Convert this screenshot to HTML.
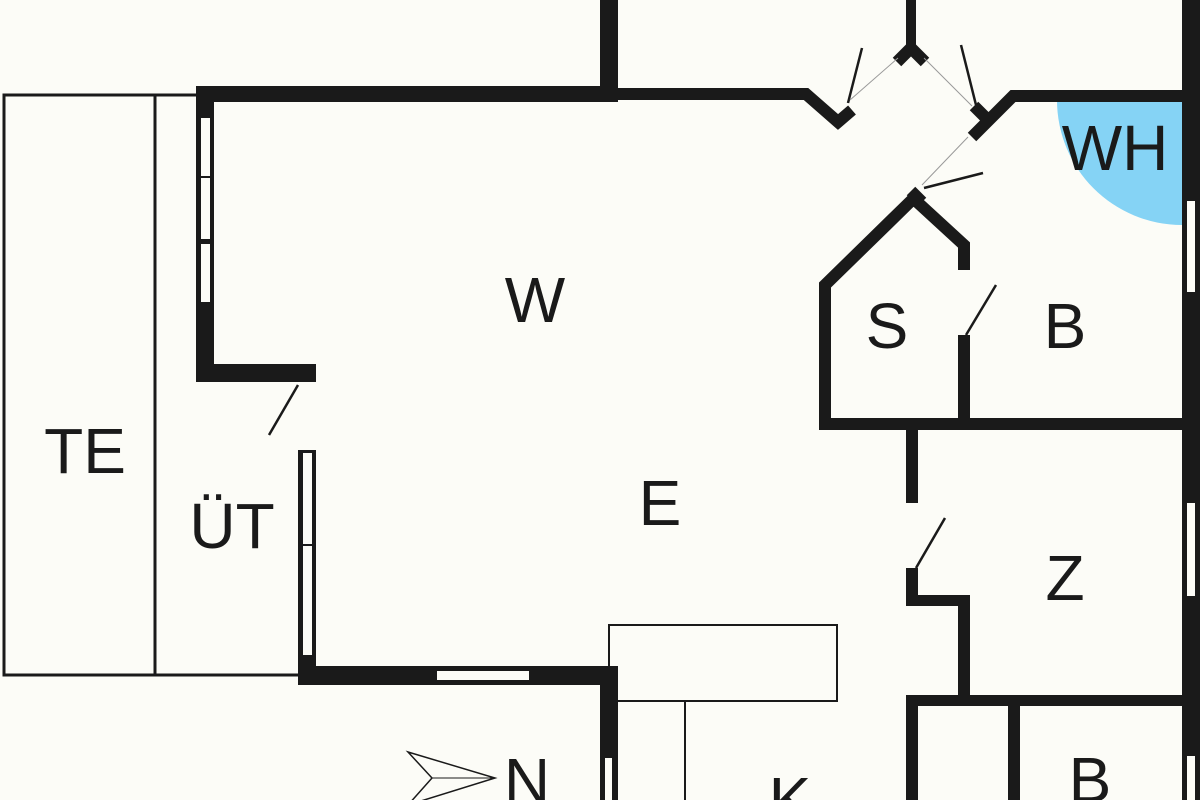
<!DOCTYPE html>
<html><head><meta charset="utf-8"><style>
html,body{margin:0;padding:0;background:#fcfcf7;}
svg{display:block}
text{font-family:"Liberation Sans",sans-serif;fill:#1a1a1a;}
</style></head><body>
<svg width="1200" height="800" viewBox="0 0 1200 800" xmlns="http://www.w3.org/2000/svg">
<rect width="1200" height="800" fill="#fcfcf7"/>
<!-- WH -->
<path d="M1182 100 L1057 100 A125 125 0 0 0 1182 225 Z" fill="#85d3f5"/>
<!-- TE / UT -->
<rect x="4" y="95" width="151" height="580" fill="none" stroke="#1a1a1a" stroke-width="3"/>
<polyline points="155,95 198,95" fill="none" stroke="#1a1a1a" stroke-width="3"/>
<polyline points="155,675 300,675" fill="none" stroke="#1a1a1a" stroke-width="3"/>
<g fill="#1a1a1a">
<rect x="196" y="86" width="422" height="16"/>
<rect x="196" y="86" width="18" height="296"/>
<rect x="196" y="364" width="120" height="18"/>
<rect x="298" y="450" width="18" height="235"/>
<rect x="298" y="666" width="320" height="19"/>
<rect x="600" y="666" width="18" height="134"/>
<rect x="600" y="0" width="18" height="102"/>
<rect x="906" y="0" width="10" height="48"/>
<rect x="1182" y="0" width="18" height="800"/>
<rect x="958" y="335" width="12" height="95"/>
<rect x="820" y="418" width="362" height="12"/>
<rect x="906" y="428" width="12" height="75"/>
<rect x="906" y="568" width="12" height="37"/>
<rect x="906" y="595" width="62" height="11"/>
<rect x="958" y="595" width="12" height="110"/>
<rect x="906" y="695" width="276" height="11"/>
<rect x="906" y="695" width="12" height="105"/>
<rect x="1008" y="700" width="12" height="100"/>
</g>
<g fill="none" stroke="#1a1a1a" stroke-width="12">
<polyline points="618,94 806,94 838,122 852,110" stroke-linejoin="miter"/>
<polyline points="897,62 911,48 925,62"/>
<polyline points="1182,96 1013,96 972,137"/>
<line x1="974" y1="106" x2="988" y2="120"/>
<polyline points="825,430 825,285 915,197"/>
<line x1="911" y1="191" x2="922" y2="202"/>
<polyline points="915,200 964,245 964,270"/>
</g>
<!-- windows -->
<g fill="#fcfcf7" stroke="#1a1a1a" stroke-width="2">
<rect x="200" y="117" width="11" height="60"/>
<rect x="200" y="177" width="11" height="63"/>
<rect x="200" y="243" width="11" height="60"/>
<rect x="302" y="452" width="11" height="93"/>
<rect x="302" y="545" width="11" height="111"/>
<rect x="436" y="670" width="94" height="11"/>
<rect x="604" y="757" width="9" height="50"/>
<rect x="1186" y="200" width="10" height="93"/>
<rect x="1186" y="502" width="10" height="95"/>
<rect x="1186" y="755" width="10" height="50"/>
</g>
<g stroke="#1a1a1a" stroke-width="2.5" fill="none">
<line x1="298" y1="385" x2="269" y2="435"/>
<line x1="848" y1="103" x2="862" y2="48"/>
<line x1="976" y1="105" x2="961" y2="45"/>
<line x1="924" y1="188" x2="983" y2="173"/>
<line x1="966" y1="335" x2="996" y2="285"/>
<line x1="916" y1="568" x2="945" y2="518"/>
</g>
<g stroke="#999" stroke-width="1" fill="none">
<line x1="850" y1="100" x2="898" y2="58"/>
<line x1="924" y1="58" x2="972" y2="106"/>
<line x1="968" y1="137" x2="922" y2="185"/>
</g>
<rect x="609" y="625" width="228" height="76" fill="none" stroke="#1a1a1a" stroke-width="2"/>
<line x1="685" y1="701" x2="685" y2="800" stroke="#1a1a1a" stroke-width="2"/>
<polygon points="408,752 495,778 408,805 432,778" fill="none" stroke="#1a1a1a" stroke-width="1.5"/>
<line x1="432" y1="778" x2="495" y2="778" stroke="#1a1a1a" stroke-width="1"/>
<g font-size="64" text-anchor="middle">
<text x="535" y="322">W</text>
<text x="660" y="525">E</text>
<text x="85" y="473">TE</text>
<text x="232" y="548">ÜT</text>
<text x="887" y="348">S</text>
<text x="1065" y="348">B</text>
<text x="1115" y="170">WH</text>
<text x="1065" y="600">Z</text>
<text x="790" y="822">K</text>
<text x="1090" y="802">B</text>
<text x="527" y="803">N</text>
</g>
</svg>
</body></html>
